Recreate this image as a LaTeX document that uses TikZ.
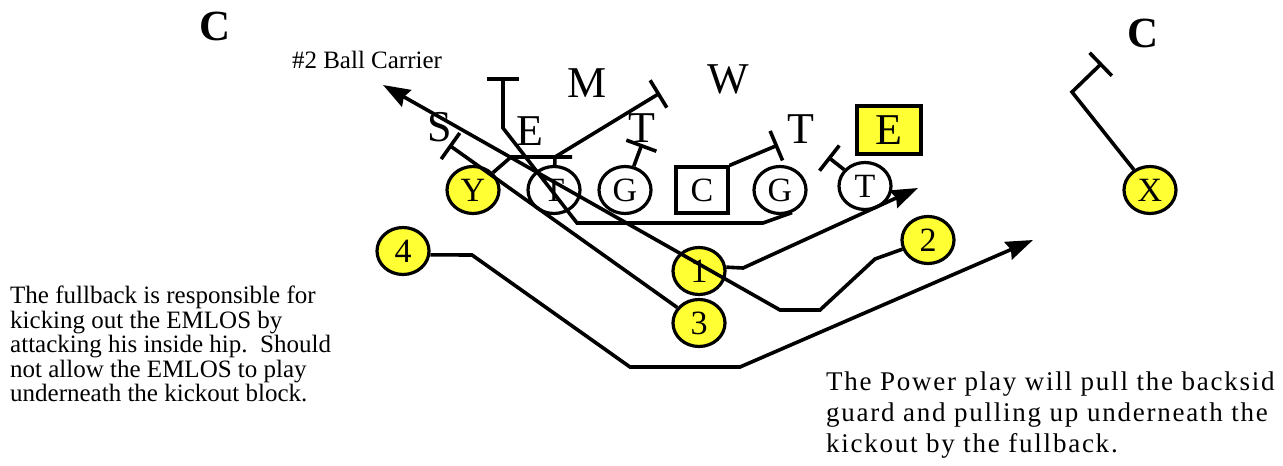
\documentclass[tikz,border=0pt]{standalone}
\usepackage{fontspec}
\setmainfont{Liberation Serif}
\usetikzlibrary{arrows.meta,shapes.geometric}
\definecolor{pyellow}{RGB}{255,255,51}
\begin{document}
\begin{tikzpicture}[x=1pt,y=-1pt,
  offnode/.style={ellipse,draw,line width=3.2pt,minimum width=52pt,minimum height=47pt,inner sep=0pt,font=\fontsize{34}{34}\selectfont},
  skillnode/.style={offnode,fill=pyellow},
  ctrbox/.style={rectangle,draw,line width=3.2pt,minimum width=52pt,minimum height=46pt,inner sep=0pt,font=\fontsize{34}{34}\selectfont},
  deflab/.style={inner sep=0pt,font=\fontsize{44}{44}\selectfont},
  cornlab/.style={inner sep=0pt,font=\fontsize{43}{43}\selectfont\bfseries},
  routeln/.style={line width=3.6pt,line join=miter},
  blockln/.style={routeln,-{Bar[width=32pt]}},
  runln/.style={routeln,-{Stealth[length=27pt,width=19pt,inset=3pt]}},
  notetxt/.style={inner sep=0pt,align=left,anchor=north west}
]
\useasboundingbox (0,0) rectangle (1283,466);

% offense
\node[skillnode] (Y) at (473,190) {Y};
\node[offnode] (LT) at (554,190) {T};
\node[offnode] (LG) at (625,190) {G};
\node[ctrbox] (CC) at (702,190) {C};
\node[offnode] (RG) at (780,190) {G};
\node[offnode] (RT) at (865,186) {T};
\node[skillnode] (X) at (1150,190) {X};
\node[skillnode] (one) at (699,271) {1};
\node[skillnode] (two) at (928,240) {2};
\node[skillnode] (three) at (699,323) {3};
\node[skillnode] (four) at (403,251) {4};

% defense
\node[deflab] (dS) at (440,127) {S};
\node[deflab] (dE) at (530,131) {E};
\node[deflab] (dM) at (587,83) {M};
\node[deflab] (dW) at (728,79) {W};
\node[deflab] (dT1) at (642,128) {T};
\node[deflab] (dT2) at (801,129) {T};
\node[deflab,draw,fill=pyellow,line width=3.2pt,minimum width=64pt,minimum height=48pt] (dE2) at (889,130) {E};
\node[cornlab] (dC1) at (215,26) {C};
\node[cornlab] (dC2) at (1143,33) {C};

% labels and notes
\node[inner sep=0pt,font=\fontsize{25}{25}\selectfont] (carrier) at (367,60) {\#2 Ball Carrier};
\node[notetxt,font=\fontsize{25}{24.5}\selectfont] (leftnote) at (10,286)
  {The fullback is responsible for\\kicking out the EMLOS by\\attacking his inside hip.\ \ Should\\not allow the EMLOS to play\\underneath the kickout block.};
\node[notetxt,font=\addfontfeature{LetterSpace=6.5}\fontsize{27}{31}\selectfont] (rightnote) at (826,372)
  {The Power play will pull the backsid\\guard and pulling up underneath the\\kickout by the fullback.};

% coordinates
\coordinate (yb) at (511,157);
\coordinate (ye) at (572,157);
\coordinate (ltup) at (555,157);
\coordinate (mend) at (660,93);
\coordinate (p1) at (763,223);
\coordinate (p2) at (577,223);
\coordinate (p3) at (503,128);
\coordinate (p4) at (503,77);
\coordinate (gt) at (642,144);
\coordinate (ct) at (778,145);
\coordinate (rt) at (828,157);
\coordinate (x1) at (1072,92);
\coordinate (x2) at (1102,63);
\coordinate (sb) at (449,145);
\coordinate (o1) at (743,268);
\coordinate (tip1) at (918,188);
\coordinate (f1) at (472,255);
\coordinate (f2) at (630,367);
\coordinate (f3) at (740,367);
\coordinate (tip4) at (1033,240);
\coordinate (a1) at (875,259);
\coordinate (a2) at (820,310);
\coordinate (a3) at (780,310);
\coordinate (tip2) at (383,85);

% blocks
\draw[routeln] (Y) -- (yb) -- (ye);
\draw[routeln] (LT) -- (ltup);
\draw[blockln] (ltup) -- (mend);
\draw[blockln] (RG.-62) -- (p1) -- (p2) -- (p3) -- (p4);
\draw[blockln] (LG) -- (gt);
\draw[blockln] (CC.north east) -- (ct);
\draw[blockln] (RT) -- (rt);
\draw[blockln] (X) -- (x1) -- (x2);
\draw[blockln] (three) -- (sb);

% runs
\draw[runln] (one.8) -- (o1) -- (tip1);
\draw[runln] (four.-8) -- (f1) -- (f2) -- (f3) -- (tip4);
\draw[runln] (two) -- (a1) -- (a2) -- (a3) -- (tip2);
\end{tikzpicture}
\end{document}
